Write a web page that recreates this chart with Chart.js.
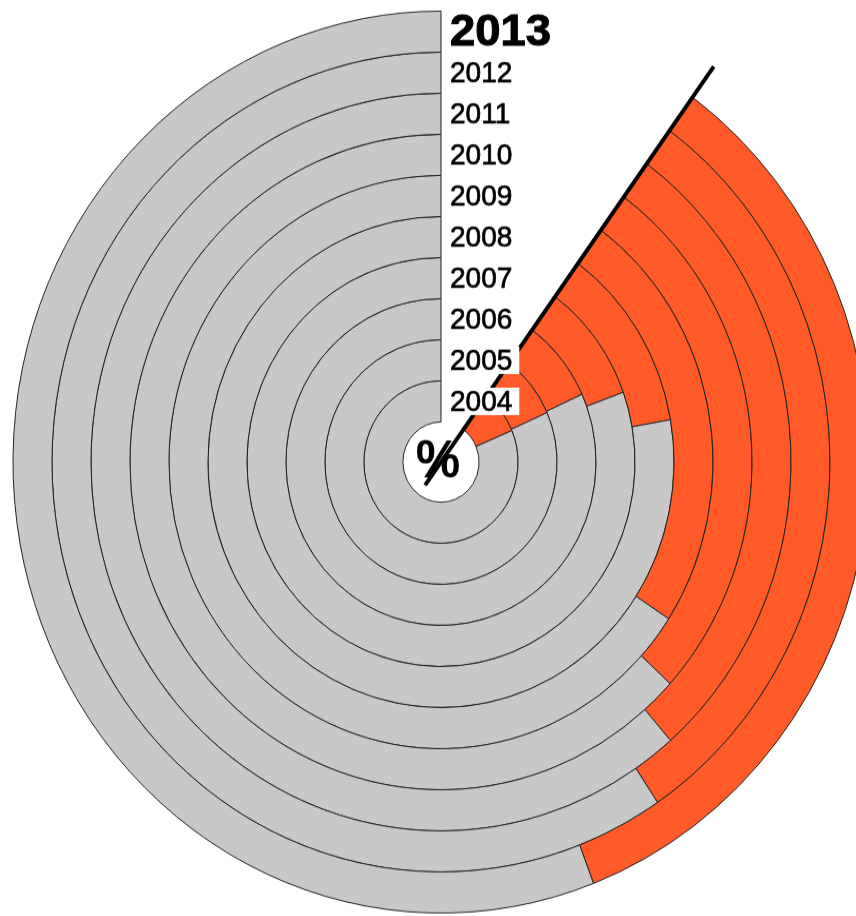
<!DOCTYPE html>
<html><head><meta charset="utf-8">
<script src="https://cdn.jsdelivr.net/npm/chart.js@4.4.1/dist/chart.umd.min.js"></script>
<style>
html,body{margin:0;padding:0;background:#fff;overflow:hidden;width:856px;height:916px;}
#wrap{position:absolute;left:0;top:0;width:882px;height:877px;transform:scaleY(1.0537);transform-origin:0 0;}
</style></head><body>
<div id="wrap"><canvas id="c"></canvas></div>
<script>
// Rings from outermost (2013) to innermost (2004)
const years = ['2013','2012','2011','2010','2009','2008','2007','2006','2005','2004'];
// share (orange) in percent of the ring's arc
const shareValues = [38, 34, 31.8, 29.8, 26.9, 13.6, 10.5, 9.1, 9.3, 9.6];
// remainder (grey) in percent of the ring's arc
const restValues  = [62, 66, 68.2, 70.2, 73.1, 86.4, 89.5, 90.9, 90.7, 90.4];
const parts = ['share', 'rest'];

const startDeg = 36;
const arcDeg = 324;

const overlay = {
  id: 'overlay',
  afterDatasetsDraw(chart) {
    const ctx = chart.ctx;
    const a0 = chart.getDatasetMeta(0).data[0];
    const cx = a0.x, cy = a0.y, R = a0.outerRadius;
    const ang = (startDeg - 90) * Math.PI / 180;
    ctx.save();
    // radial start line
    ctx.strokeStyle = '#000';
    ctx.lineWidth = 4;
    ctx.beginPath();
    ctx.moveTo(cx - Math.cos(ang) * 27, cy - Math.sin(ang) * 27);
    ctx.lineTo(cx + Math.cos(ang) * (R + 36), cy + Math.sin(ang) * (R + 36));
    ctx.stroke();
    // year labels
    years.forEach((yr, i) => {
      const a = chart.getDatasetMeta(i).data[0];
      const mid = (a.innerRadius + a.outerRadius) / 2;
      const bold = i === 0;
      ctx.font = bold ? 'bold 42px "Liberation Sans"' : '28px "Liberation Sans"';
      const w = ctx.measureText(yr).width;
      ctx.textBaseline = 'middle';
      ctx.textAlign = 'left';
      if (!bold) {
        ctx.fillStyle = '#fff';
        ctx.fillRect(cx + 4, cy - mid - 13, w + 12, 26);
        ctx.fillStyle = '#000';
        ctx.strokeStyle = '#000';
        ctx.lineWidth = 0.7;
        ctx.fillText(yr, cx + 9, cy - mid + 1);
        ctx.strokeText(yr, cx + 9, cy - mid + 1);
      } else {
        ctx.save();
        ctx.translate(cx + 9, cy - mid + 1);
        ctx.scale(1.08, 1);
        ctx.fillStyle = '#000';
        ctx.strokeStyle = '#000';
        ctx.lineWidth = 1;
        ctx.fillText(yr, 0, 0);
        ctx.strokeText(yr, 0, 0);
        ctx.restore();
      }
    });
    // centre percent sign
    ctx.font = 'bold 50px "Liberation Sans"';
    ctx.textAlign = 'center';
    ctx.textBaseline = 'middle';
    ctx.fillStyle = '#000';
    ctx.fillText('%', cx - 3, cy + 1);
    ctx.restore();
  }
};

new Chart(document.getElementById('c'), {
  type: 'doughnut',
  data: {
    labels: parts,
    datasets: years.map((yr, i) => ({
      label: yr,
      data: [shareValues[i], restValues[i]],
      backgroundColor: ['#ff5a27', '#c8c8c8'],
      borderColor: '#222',
      borderWidth: 1
    }))
  },
  options: {
    responsive: true,
    maintainAspectRatio: false,
    animation: false,
    events: [],
    rotation: startDeg,
    circumference: arcDeg,
    radius: 428,
    cutout: '8.9%',
    layout: { padding: 0 },
    plugins: { legend: { display: false }, tooltip: { enabled: false } }
  },
  plugins: [overlay]
});
</script>
</body></html>
